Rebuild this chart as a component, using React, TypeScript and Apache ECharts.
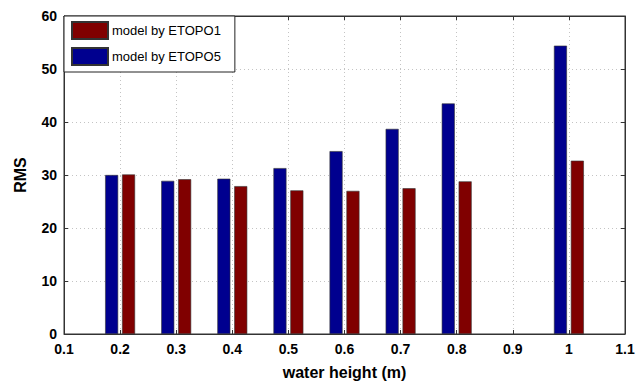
import React, { useEffect, useRef } from "react";
import * as echarts from "echarts";

const waterHeights = [0.2, 0.3, 0.4, 0.5, 0.6, 0.7, 0.8, 1.0];
const etopo5 = [30.0, 28.9, 29.3, 31.3, 34.5, 38.7, 43.5, 54.4];
const etopo1 = [30.1, 29.2, 27.9, 27.1, 27.0, 27.5, 28.8, 32.7];
const nameE1 = "model by ETOPO1";
const nameE5 = "model by ETOPO5";

const font = "'Liberation Sans', Arial, sans-serif";
const fmt = (v: number) => String(parseFloat(Number(v).toFixed(1)));

export default function App() {
  const ref = useRef<HTMLDivElement>(null);
  useEffect(() => {
    if (!ref.current) return;
    const chart = echarts.init(ref.current, undefined, { renderer: "svg" });
    const labelStyle = { color: "#000", fontFamily: font, fontSize: 14, fontWeight: "bold" as const };
    const gridLine = { show: true, lineStyle: { color: "#c4c4c4", type: [1, 3] as any, width: 1 } };
    chart.setOption({
      animation: false,
      backgroundColor: "#fff",
      grid: { left: 64, right: 19, top: 16, bottom: 48, show: true, borderColor: "#333", borderWidth: 1 },
      legend: {
        data: [nameE1, nameE5],
        orient: "vertical",
        left: 64,
        top: 16,
        padding: [5, 14, 6, 7],
        icon: "rect",
        itemWidth: 36,
        itemHeight: 17,
        itemGap: 7,
        backgroundColor: "#fff",
        borderColor: "#222",
        borderWidth: 1,
        borderRadius: 0,
        textStyle: { fontFamily: font, fontSize: 13, color: "#000", padding: [0, 0, 0, -1] },
      },
      xAxis: [
        {
          type: "value",
          min: 0.1,
          max: 1.1,
          interval: 0.1,
          name: "water height (m)",
          nameLocation: "middle",
          nameGap: 30,
          nameTextStyle: { fontFamily: font, fontSize: 16, fontWeight: "bold", color: "#000" },
          axisLine: { show: true, onZero: false, lineStyle: { color: "#333" } },
          axisTick: { show: true, inside: true, length: 4, lineStyle: { color: "#333" } },
          axisLabel: { ...labelStyle, margin: 8, formatter: fmt },
          splitLine: gridLine,
        },
        {
          type: "value",
          position: "top",
          min: 0.1,
          max: 1.1,
          interval: 0.1,
          axisLine: { show: true, onZero: false, lineStyle: { color: "#333" } },
          axisTick: { show: true, inside: true, length: 4, lineStyle: { color: "#333" } },
          axisLabel: { show: false },
          splitLine: { show: false },
        },
      ],
      yAxis: [
        {
          type: "value",
          min: 0,
          max: 60,
          interval: 10,
          name: "RMS",
          nameLocation: "middle",
          nameGap: 36,
          nameTextStyle: { fontFamily: font, fontSize: 16, fontWeight: "bold", color: "#000" },
          axisLine: { show: true, lineStyle: { color: "#333" } },
          axisTick: { show: true, inside: true, length: 4, lineStyle: { color: "#333" } },
          axisLabel: { ...labelStyle, margin: 7 },
          splitLine: gridLine,
        },
        {
          type: "value",
          position: "right",
          min: 0,
          max: 60,
          interval: 10,
          axisLine: { show: true, lineStyle: { color: "#333" } },
          axisTick: { show: true, inside: true, length: 4, lineStyle: { color: "#333" } },
          axisLabel: { show: false },
          splitLine: { show: false },
        },
      ],
      series: [
        {
          name: nameE5,
          type: "bar",
          barWidth: 13,
          barGap: "30%",
          itemStyle: { color: "#00008f", borderColor: "#333", borderWidth: 0.6 },
          data: waterHeights.map((x, i) => [x, etopo5[i]]),
        },
        {
          name: nameE1,
          type: "bar",
          barWidth: 13,
          barGap: "30%",
          itemStyle: { color: "#800000", borderColor: "#333", borderWidth: 0.6 },
          data: waterHeights.map((x, i) => [x, etopo1[i]]),
        },
      ],
    });
    return () => chart.dispose();
  }, []);
  return (
    <div
      ref={ref}
      style={{ position: "fixed", left: 0, top: 0, width: 644, height: 385, background: "#fff" }}
    />
  );
}
